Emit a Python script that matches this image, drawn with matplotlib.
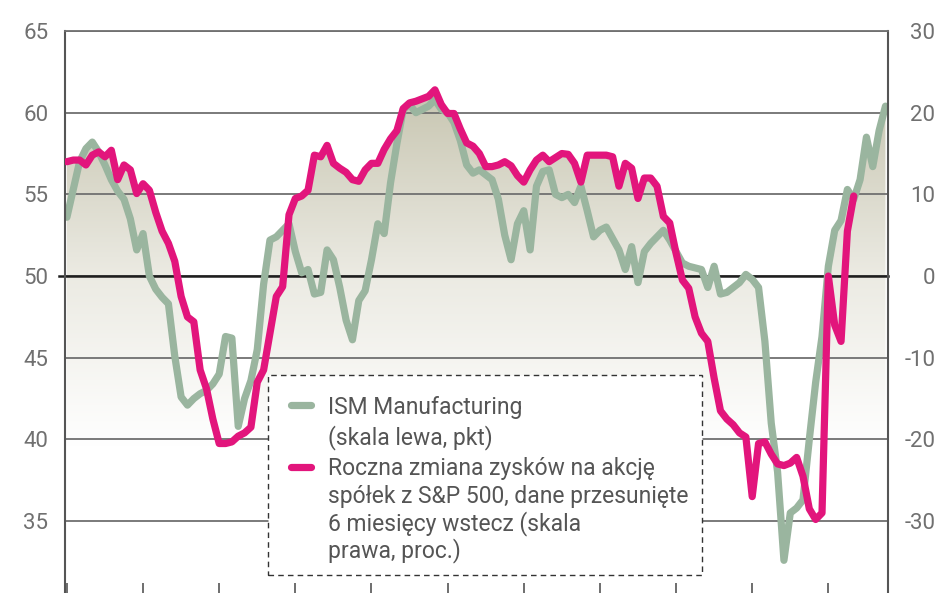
import numpy as np
import matplotlib.pyplot as plt
from matplotlib.colors import LinearSegmentedColormap
from matplotlib.patches import Rectangle
from matplotlib.lines import Line2D

plt.rcParams['font.family'] = ['Roboto', 'DejaVu Sans']
plt.rcParams['axes.unicode_minus'] = False

# ISM Manufacturing, monthly (left scale, pkt)
ism = [53.6, 55.3, 57.0, 57.8, 58.2, 57.6, 56.8, 55.9, 55.2, 54.7,
       53.5, 51.6, 52.6, 50.0, 49.2, 48.7, 48.3, 45.1, 42.6, 42.1,
       42.5, 42.8, 43.0, 43.4, 44.0, 46.3, 46.2, 40.8, 42.5, 43.6,
       45.5, 49.5, 52.2, 52.4, 52.8, 53.2, 51.5, 50.2, 50.4, 48.9,
       49.0, 51.6, 51.0, 49.3, 47.3, 46.1, 48.5, 49.1, 51.0, 53.2,
       52.6, 55.7, 58.1, 60.2, 60.5, 60.0, 60.2, 60.4, 60.8, 60.2,
       60.0, 59.4, 58.3, 56.8, 56.3, 56.5, 56.2, 55.9, 54.7, 52.5,
       51.0, 53.2, 54.0, 51.6, 55.5, 56.4, 56.5, 55.0, 54.8, 55.0,
       54.5, 55.5, 54.0, 52.4, 52.8, 53.0, 52.3, 51.6, 50.4, 51.8,
       49.6, 51.5, 52.0, 52.4, 52.8, 52.2, 51.5, 50.8, 50.6, 50.5,
       50.4, 49.3, 50.6, 48.9, 49.0, 49.3, 49.6, 50.1, 49.8, 49.3,
       46.0, 41.0, 38.0, 32.6, 35.5, 35.8, 36.3, 40.0, 43.5, 46.3,
       50.6, 52.8, 53.4, 55.3, 54.7, 55.9, 58.5, 56.7, 58.9, 60.4]

# S&P 500 EPS y/y change, shifted 6 months back (right scale, %)
eps = [14.0, 14.2, 14.2, 13.6, 14.8, 15.2, 14.6, 15.4, 11.8, 13.6,
       13.0, 10.1, 11.3, 10.5, 7.8, 5.5, 4.0, 1.8, -2.5, -5.0,
       -5.6, -11.5, -13.8, -17.5, -20.5, -20.5, -20.3, -19.6, -19.2, -18.5,
       -13.0, -11.5, -7.0, -2.5, -1.3, 7.5, 9.5, 9.8, 10.5, 14.8,
       14.6, 16.0, 13.8, 13.2, 12.7, 11.8, 11.6, 13.0, 13.8, 13.8,
       15.5, 16.8, 17.8, 20.5, 21.2, 21.4, 21.7, 22.0, 22.8, 21.0,
       19.9, 19.9, 18.0, 16.3, 15.9, 15.0, 13.4, 13.4, 13.6, 14.0,
       13.5, 12.3, 11.5, 13.0, 14.2, 14.8, 14.0, 14.5, 15.0, 14.9,
       13.8, 11.5, 14.8, 14.8, 14.8, 14.8, 14.6, 11.0, 13.8, 13.2,
       9.5, 12.0, 12.0, 11.0, 7.3, 6.5, 2.8, -0.5, -1.5, -5.0,
       -7.0, -8.0, -12.5, -16.5, -17.5, -18.2, -19.2, -19.7, -27.0, -20.5,
       -20.3, -21.8, -23.0, -23.2, -22.9, -22.2, -24.5, -28.5, -29.8, -29.0,
       0.0, -6.0, -8.0, 5.5, 9.8]

left_ticks = [35, 40, 45, 50, 55, 60, 65]
right_ticks = [-30, -20, -10, 0, 10, 20, 30]
labels = ['ISM Manufacturing\n(skala lewa, pkt)',
          'Roczna zmiana zysków na akcję\nspółek z S&P 500, dane przesunięte\n6 miesięcy wstecz (skala\nprawa, proc.)']

green = '#9ab59f'
pink = '#e2157c'
ylo, yhi = 30.6, 65
W, H = 948, 593

m_ism = np.arange(len(ism))
m_eps = np.arange(len(eps))

fig = plt.figure(figsize=(W / 100, H / 100), dpi=100)
ax = fig.add_axes([65 / W, 0, 823 / W, 562 / H])
ax.set_xlim(-0.3, 129.4)
ax.set_ylim(ylo, yhi)

# gradient fill under the upper of both lines
upper = np.array(ism, dtype=float)
upper[:len(eps)] = np.maximum(upper[:len(eps)], np.array(eps) / 2 + 50)
poly = ax.fill_between(m_ism, ylo, upper, facecolor='none', lw=0)
cmap = LinearSegmentedColormap.from_list('bg', ['#ffffff', '#ebeae2', '#c9c7b3'])
grad = np.linspace(ylo, yhi, 300).reshape(-1, 1)
im = ax.imshow(grad, extent=[-0.3, 129.4, ylo, yhi], origin='lower', aspect='auto',
               cmap=cmap, vmin=39.5, vmax=61, zorder=0)
im.set_clip_path(poly.get_paths()[0], ax.transData)

ax.set_yticks(left_ticks)
ax.grid(axis='y', color='#707070', lw=1.3)
ax.set_axisbelow(True)
ax.axhline(50, xmin=-0.007, color='#1e1e1e', lw=1.8, clip_on=False, zorder=1)

ax.plot(m_ism, ism, color=green, lw=5.2, solid_joinstyle='round',
        solid_capstyle='round', zorder=2)

ax2 = ax.twinx()
ax2.set_ylim((ylo - 50) * 2, (yhi - 50) * 2)
ax2.set_yticks(right_ticks)
ax2.plot(m_eps, eps, color=pink, lw=5.2, solid_joinstyle='round',
         solid_capstyle='round', zorder=3)

ax.set_xticks(np.arange(0, 121, 12))
ax.tick_params(axis='x', direction='in', length=7.5, width=1.2, color='#555555',
               labelbottom=False)
ax.tick_params(axis='y', length=0, pad=12, labelsize=16, labelcolor='#707070')
ax2.tick_params(axis='y', length=0, pad=34, labelsize=16, labelcolor='#707070')
for lbl in ax2.get_yticklabels():
    lbl.set_ha('right')

for s in ax2.spines.values():
    s.set_visible(False)
ax.spines['bottom'].set_visible(False)
ax.spines['left'].set_color('#555555')
ax.spines['left'].set_linewidth(1.5)
ax.spines['right'].set_color('#555555')
ax.spines['right'].set_linewidth(1.5)
ax.spines['top'].set_color('#707070')
ax.spines['top'].set_linewidth(1.3)

# legend box, drawn by hand so the keys sit on the first line of each label
box = Rectangle((268 / W, 1 - 575 / H), 434 / W, 200 / H, transform=fig.transFigure,
                facecolor='white', edgecolor='#333333', lw=1.0, ls=(0, (4, 3)),
                clip_on=False, zorder=10)
ax2.add_patch(box)
key_y = [405, 467]
baselines = [[414, 444], [475, 503, 530, 557]]
for color, ky, lab, bl in zip([green, pink], key_y, labels, baselines):
    ax2.add_line(Line2D([291 / W, 311 / W], [1 - ky / H] * 2, transform=fig.transFigure,
                        color=color, lw=5.2, solid_capstyle='round', clip_on=False,
                        zorder=11))
    for line, y in zip(lab.split('\n'), bl):
        fig.text(328 / W, 1 - y / H, line, fontsize=16.5, color='#555555',
                 va='baseline', ha='left', zorder=12)

fig.savefig('out.png', dpi=100)
